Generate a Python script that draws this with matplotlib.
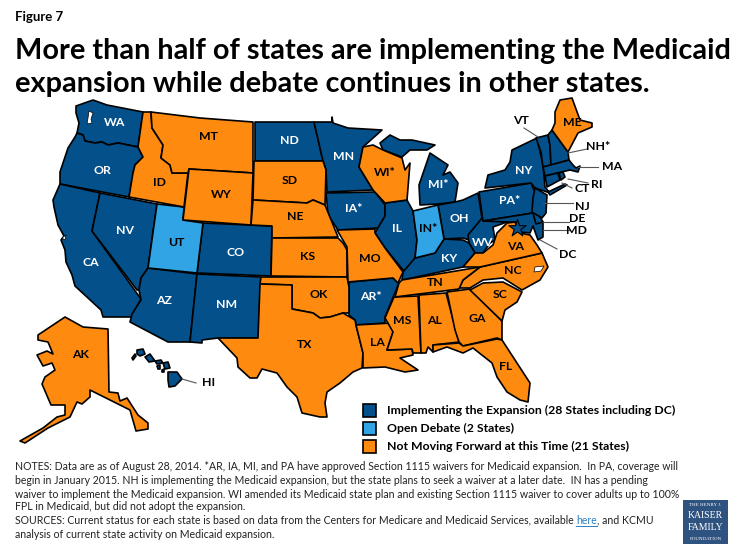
import matplotlib
matplotlib.use("Agg")
import matplotlib.pyplot as plt
from matplotlib.patches import Polygon, Rectangle

plt.rcParams['font.family'] = ['Lato', 'DejaVu Sans']

# state outlines (x, y in image pixels)
WA = [(76,106),(93,100),(107,105),(143,112),(138,147),(118,143),(108,145),(102,142),(95,143),(85,141),(83,135),(77,133),(79,123),(76,113)]
OR = [(77,133),(83,135),(85,141),(95,143),(102,142),(108,145),(118,143),(138,147),(143,157),(135,165),(133,173),(129,197),(60,184),(60,172),(68,148),(75,137)]
CA = [(60,184),(100,193),(92,231),(141,299),(137,306),(132,317),(103,317),(101,310),(88,298),(75,286),(72,275),(66,262),(65,250),(61,240),(64,236),(58,225),(54,207),(53,200)]
NV = [(100,193),(157,204),(148,268),(141,278),(139,290),(137,290),(92,231)]
AZ = [(148,268),(197,274),(190,342),(168,342),(130,322),(132,314),(141,300),(139,290),(141,278)]
NM = [(197,274),(261,277),(258,338),(218,338),(202,340),(202,343),(190,342)]
UT = [(157,204),(184,207),(183,220),(203,223),(197,273),(148,268)]
CO = [(203,223),(272,226),(271,276),(197,273)]
WY = [(189,169),(253,173),(251,225),(183,220)]
MT = [(151,112),(200,118),(253,122),(253,173),(189,169),(188,173),(172,173),(170,165),(161,158),(163,145),(152,128)]
ID = [(143,112),(151,112),(152,128),(163,145),(161,158),(170,165),(172,173),(188,173),(184,207),(129,197),(133,173),(135,165),(143,157),(138,147)]
ND = [(255,122),(314,122),(323,161),(255,161)]
SD = [(254,161),(323,161),(326,170),(325,205),(313,200),(307,203),(253,200)]
NE = [(253,200),(307,203),(313,200),(325,205),(338,237),(272,238),(272,226),(251,225)]
KS = [(272,238),(338,238),(343,243),(347,250),(347,277),(271,276)]
OK = [(261,277),(347,277),(349,287),(349,313),(343,313),(330,317),(320,318),(313,313),(292,309),(292,285),(260,284)]
TX = [(260,284),(292,285),(292,309),(313,313),(320,318),(330,317),(343,313),(355,320),(356,325),(363,353),(362,368),(353,372),(340,383),(327,392),(325,403),(327,417),(320,417),(302,413),(297,397),(287,387),(277,373),(262,369),(257,378),(250,378),(238,367),(237,358),(218,338),(258,338)]
MN = [(314,122),(332,122),(332,117),(333,123),(348,128),(382,130),(363,147),(359,167),(373,190),(327,192),(326,170),(323,161)]
IA = [(326,193),(375,192),(385,205),(385,216),(378,228),(338,230),(328,215),(327,203)]
MO = [(337,230),(375,229),(375,233),(385,248),(403,272),(398,283),(393,278),(348,282),(347,247)]
AR = [(349,282),(393,278),(399,283),(394,295),(385,317),(385,323),(356,325),(355,320),(349,315)]
LA = [(356,325),(392,323),(393,332),(387,350),(412,349),(413,355),(400,358),(418,370),(405,372),(385,367),(363,368),(363,353)]
MS = [(394,297),(418,296),(421,353),(413,353),(412,349),(387,350),(393,332),(385,318)]
AL = [(419,295),(446,293),(459,342),(433,345),(433,352),(428,347),(426,353),(421,353)]
GA = [(447,292),(470,289),(502,321),(502,340),(497,338),(463,346),(459,342),(455,330)]
FL = [(433,345),(459,343),(463,346),(497,339),(502,340),(530,383),(528,402),(520,400),(507,392),(497,377),(492,363),(473,348),(463,353),(447,347),(433,352)]
SC = [(470,290),(483,283),(503,282),(522,292),(517,302),(505,310),(502,321)]
NC = [(480,267),(542,253),(548,267),(540,280),(522,290),(503,278),(483,280),(470,288),(459,288),(463,280)]
TN = [(480,267),(463,280),(459,289),(395,297),(399,283),(402,280)]
KY = [(402,280),(403,272),(415,258),(435,253),(444,239),(463,240),(469,243),(475,253),(463,267)]
IL = [(385,203),(407,200),(413,211),(417,240),(415,258),(410,269),(403,270),(385,248),(375,233),(385,216)]
IN = [(413,211),(438,205),(444,239),(435,253),(415,258),(417,240)]
WI = [(363,147),(373,145),(383,150),(402,158),(405,170),(410,163),(407,200),(385,203),(373,190),(359,167)]
MI_UP = [(380,143),(390,135),(400,140),(412,140),(435,145),(427,150),(410,150),(402,157),(383,150)]
MI_LP = [(420,205),(419,185),(430,153),(448,165),(443,175),(450,172),(458,183),(455,202),(438,204)]
OH = [(438,205),(455,202),(463,200),(478,193),(482,218),(477,230),(469,240),(463,238),(444,239)]
WV = [(469,243),(468,235),(478,223),(482,218),(483,220),(507,222),(493,227),(495,240),(490,243),(483,253),(475,253)]
VA = [(463,267),(475,253),(483,253),(493,245),(497,233),(507,223),(515,222),(520,233),(530,235),(537,245),(542,253),(480,267)]
PA = [(479,192),(531,183),(537,197),(533,205),(533,213),(483,221)]
MD = [(483,221),(533,213),(543,222),(543,237),(538,240),(533,226),(530,233),(520,232),(515,222),(507,222)]
DE = [(533,213),(537,212),(543,222),(536,224)]
NY = [(485,188),(488,175),(505,170),(510,162),(512,150),(537,138),(543,165),(545,187),(550,193),(535,188),(531,183)]
LI = [(548,192),(565,184),(567,185),(550,195)]
VT = [(536,138),(548,135),(550,145),(551,165),(543,167),(541,152)]
NH = [(548,135),(552,130),(568,152),(569,160),(551,165),(550,145)]
ME = [(555,123),(555,112),(560,100),(572,98),(580,120),(592,123),(592,127),(578,133),(568,152),(552,130)]
MA = [(543,167),(569,160),(573,165),(576,168),(580,166),(578,172),(570,170),(545,176)]
CT = [(545,176),(558,173),(560,180),(547,187)]
RI = [(559,173),(563,172),(565,177),(561,180)]
NJ = [(535,188),(547,195),(546,213),(542,218),(532,212),(533,198)]
AK = [(65,317),(83,327),(108,329),(109,392),(118,393),(120,401),(127,398),(138,415),(148,423),(148,429),(136,431),(130,410),(90,390),(90,397),(82,404),(77,402),(70,417),(48,428),(25,443),(20,441),(43,428),(57,417),(65,415),(65,405),(51,405),(42,384),(45,377),(55,370),(52,363),(43,366),(37,355),(47,351),(53,354),(48,342),(38,340),(38,335)]
HI_1 = [(168,372),(177,372),(182,379),(175,386),(169,387),(168,380)]
HI_2 = [(137,350),(143,349),(145,354),(140,356),(137,354)]
HI_3 = [(132,358),(135,354),(136,356),(133,360)]
HI_4 = [(145,357),(150,354),(155,361),(149,362)]
HI_5 = [(155,361),(161,360),(163,363),(157,364)]
HI_6 = [(163,363),(168,362),(170,368),(165,369)]
HI_7 = [(157,366),(160,365),(160,369),(158,369)]
HI_8 = [(162,370),(164,369),(164,372),(162,372)]

# water cut into the land
PUGET = [(89,111),(93,113),(91,119),(92,123),(87,124),(88,118)]
PAMLICO = [(535,267),(544,266),(541,271),(534,272)]
SF_BAY = [(62,238),(66,235),(65,240)]

blue_states = [WA, OR, CA, NV, AZ, NM, CO, ND, MN, IA, AR, IL, MI_UP, MI_LP, OH, WV, KY, PA, MD, DE, NY, LI, VT, NH, MA, CT, RI, NJ, HI_1, HI_2, HI_3, HI_4, HI_5, HI_6, HI_7, HI_8]
light_states = [UT, IN]
orange_states = [AK, ID, MT, WY, SD, NE, KS, OK, TX, MO, LA, MS, AL, GA, FL, SC, NC, TN, VA, WI, ME]

# white labels on dark, black on orange
labels_white = [("WA",115,122),("OR",102,171),("CA",91,263),("NV",125,231),("AZ",164,301),("NM",227,304),("CO",236,252),("ND",289,140),("MN",344,156),("IA*",354,209),("IL",397,229),("MI*",438,184),("OH",459,218),("WV",483,243),("KY",449,259),("NY",524,170),("PA*",510,201),("AR*",371,296)]
labels_black = [("UT",176,242),("IN*",428,229),("MT",208,137),("ID",160,182),("WY",221,195),("SD",290,180),("NE",295,217),("KS",308,256),("OK",319,295),("TX",305,345),("MO",370,258),("WI*",385,172),("TN",435,283),("VA",516,246),("NC",513,271),("SC",500,295),("GA",477,319),("AL",435,320),("MS",402,321),("LA",377,342),("FL",506,366),("AK",81,355),("ME",572,123),("HI",209,382),("VT",521,121),("NH*",598,146),("MA",612,166),("RI",597,184),("CT",582,189),("NJ",582,206),("DE",577,219),("MD",577,231),("DC",568,254)]

# leader lines from the state out to its label
lead_x0 = [524, 568, 578, 568, 562, 543, 543, 543, 540, 182]
lead_y0 = [128, 153, 167, 179, 183, 203, 222, 230, 240, 379]
lead_x1 = [538, 587, 598, 588, 572, 573, 569, 569, 557, 196]
lead_y1 = [137, 149, 167, 183, 188, 203, 222, 230, 249, 383]

legend_labels = ["Implementing the Expansion (28 States including DC)", "Open Debate (2 States)", "Not Moving Forward at this Time (21 States)"]
note_lines = [
    "NOTES: Data are as of August 28, 2014. *AR, IA, MI, and PA have approved Section 1115 waivers for Medicaid expansion.  In PA, coverage will",
    "begin in January 2015. NH is implementing the Medicaid expansion, but the state plans to seek a waiver at a later date.  IN has a pending",
    "waiver to implement the Medicaid expansion. WI amended its Medicaid state plan and existing Section 1115 waiver to cover adults up to 100%",
    "FPL in Medicaid, but did not adopt the expansion.",
    "SOURCES: Current status for each state is based on data from the Centers for Medicare and Medicaid Services, available ",
    "analysis of current state activity on Medicaid expansion.",
]

DARK = '#03508a'
LIGHT = '#30a4e4'
ORANGE = '#ff8a10'

fig = plt.figure(figsize=(7.35, 5.51), dpi=100)
ax = fig.add_axes([0, 0, 1, 1])
ax.set_xlim(0, 735)
ax.set_ylim(551, 0)
ax.axis('off')

for group, col in [(blue_states, DARK), (light_states, LIGHT), (orange_states, ORANGE)]:
    for pts in group:
        ax.add_patch(Polygon(pts, closed=True, facecolor=col, edgecolor='black', lw=1.2, joinstyle='round'))
for pts in [PUGET, PAMLICO, SF_BAY]:
    ax.add_patch(Polygon(pts, closed=True, facecolor='white', edgecolor='black', lw=0.5, zorder=2))

# star for DC
ax.scatter([517], [228], marker='*', s=170, color=DARK, edgecolor='black', lw=0.8, zorder=3)

for i in range(len(lead_x0)):
    ax.plot([lead_x0[i], lead_x1[i]], [lead_y0[i], lead_y1[i]], color='#555555', lw=0.8, zorder=4)

for name, x, y in labels_white:
    ax.text(x, y, name, color='white', fontsize=8.8, fontweight='bold', ha='center', va='center', zorder=5)
for name, x, y in labels_black:
    ax.text(x, y, name, color='black', fontsize=8.8, fontweight='bold', ha='center', va='center', zorder=5)

ax.text(15, 17, "Figure 7", fontsize=9.5, fontweight='bold', va='center')
ax.text(15, 51, "More than half of states are implementing the Medicaid", fontsize=20.8, fontweight='bold', va='center')
ax.text(15, 84, "expansion while debate continues in other states.", fontsize=20.8, fontweight='bold', va='center')

# legend
for i, (lab, col) in enumerate(zip(legend_labels, [DARK, LIGHT, ORANGE])):
    y = 404 + i * 18
    ax.add_patch(Rectangle((363, y), 13, 13, facecolor=col, edgecolor='black', lw=1.2))
    ax.text(387, y + 6.5, lab, fontsize=8.8, fontweight='bold', va='center')

# footer
note_y = [467, 480, 494, 507, 520, 534]
for line, y in zip(note_lines, note_y):
    t = ax.text(15, y, line, fontsize=7.6, color='#222222', va='center')
    if line.endswith("available "):
        fig.canvas.draw()
        bb = t.get_window_extent()
        h = ax.text(bb.x1, y, "here", fontsize=7.6, color='#2a7fc4', va='center')
        bb2 = h.get_window_extent()
        ax.plot([bb2.x0, bb2.x1], [y + 6, y + 6], color='#2a7fc4', lw=0.7)
        ax.text(bb2.x1, y, ", and KCMU", fontsize=7.6, color='#222222', va='center')

# logo
ax.add_patch(Rectangle((683, 500), 45, 44, facecolor='#2f5380', edgecolor='none'))
ax.text(705.5, 505, "THE HENRY J.", color='white', fontsize=3.6, family='Liberation Serif', ha='center', va='center')
ax.text(705.5, 516, "KAISER", color='white', fontsize=7, family='Liberation Serif', ha='center', va='center')
ax.text(705.5, 528, "FAMILY", color='white', fontsize=7, family='Liberation Serif', ha='center', va='center')
ax.text(705.5, 539, "FOUNDATION", color='white', fontsize=3.6, family='Liberation Serif', ha='center', va='center')

fig.savefig('out.png', dpi=100)
